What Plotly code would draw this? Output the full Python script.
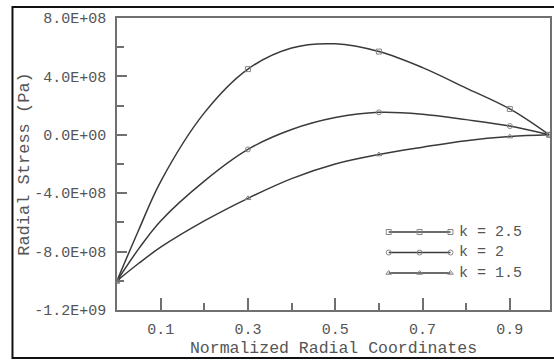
import plotly.graph_objects as go

# Normalized radial coordinate and radial stress (Pa) for three gradient indices
r_norm = [0.0, 0.05, 0.1, 0.2, 0.3, 0.4, 0.5, 0.6, 0.7, 0.8, 0.9, 0.99]
stress_k25 = [-1.0e9, -6.5e8, -3.2e8, 1.5e8, 4.5e8, 5.95e8, 6.23e8, 5.7e8, 4.6e8, 3.2e8, 1.77e8, 0.0]
stress_k2 = [-1.0e9, -7.8e8, -5.9e8, -3.17e8, -1.0e8, 0.36e8, 1.18e8, 1.54e8, 1.41e8, 1.04e8, 0.6e8, 0.0]
stress_k15 = [-1.0e9, -8.8e8, -7.7e8, -5.9e8, -4.35e8, -3.0e8, -2.0e8, -1.35e8, -0.85e8, -0.4e8, -0.12e8, 0.0]
series_names = ["k = 2.5", "k = 2", "k = 1.5"]
marker_index = [0, 4, 7, 10, 11]

x_tick_vals = [0.1, 0.3, 0.5, 0.7, 0.9]
x_tick_text = ["0.1", "0.3", "0.5", "0.7", "0.9"]
x_minor_vals = [0.2, 0.4, 0.6, 0.8]
y_tick_vals = [-1.2e9, -8.0e8, -4.0e8, 0.0, 4.0e8, 8.0e8]
y_tick_text = ["-1.2E+09", "-8.0E+08", "-4.0E+08", "0.0E+00", "4.0E+08", "8.0E+08"]
y_minor_vals = [-1.0e9, -6.0e8, -2.0e8, 2.0e8, 6.0e8]

W, H = 554, 360
L, R, T, B = 117, 2, 18, 50
PW, PH = W - L - R, H - T - B


def px(x):
    return (x - L) / PW


def py(y):
    return (H - B - y) / PH


FONT = "Liberation Mono"
LINE = "#3a3a3a"
MARK = "#858585"
AXIS = "#707070"
TEXT = "#555555"
symbols = ["square-open", "circle-open", "triangle-up-open"]
all_series = [stress_k25, stress_k2, stress_k15]

fig = go.Figure()
for name, ys, sym in zip(series_names, all_series, symbols):
    fig.add_trace(go.Scatter(
        x=r_norm, y=ys, mode="lines", name=name,
        line=dict(color=LINE, width=1.5, shape="spline", smoothing=1.0),
        showlegend=False, hoverinfo="skip",
    ))
    fig.add_trace(go.Scatter(
        x=[r_norm[i] for i in marker_index], y=[ys[i] for i in marker_index],
        mode="markers", name=name, showlegend=False,
        marker=dict(symbol=sym, size=5, color=MARK, line=dict(width=1, color=MARK)),
    ))

# Legend block: sample line with three markers and a label per series
leg_x = [px(390), px(421), px(452)]
leg_rows = [232, 252.5, 273]
for name, sym, yrow in zip(series_names, symbols, leg_rows):
    fig.add_trace(go.Scatter(
        x=leg_x, y=[py(yrow)] * 3, xaxis="x2", yaxis="y2",
        mode="lines+markers", showlegend=False, hoverinfo="skip",
        line=dict(color=LINE, width=1.5),
        marker=dict(symbol=sym, size=5, color=MARK, line=dict(width=1, color=MARK)),
    ))
    fig.add_annotation(
        x=px(459), y=py(yrow), xref="paper", yref="paper", text=name,
        showarrow=False, xanchor="left", yanchor="middle",
        font=dict(family=FONT, size=15, color=TEXT),
    )

# Outer frame around the whole figure
fig.add_shape(
    type="rect", xref="paper", yref="paper",
    x0=px(12), x1=px(560), y0=py(358), y1=py(7),
    line=dict(color="#111111", width=2), fillcolor="rgba(0,0,0,0)", layer="above",
)

axis_common = dict(
    showgrid=False, zeroline=False, showline=True, mirror=True,
    linecolor=AXIS, linewidth=1.5, ticks="inside", tickcolor=AXIS, tickwidth=1.5,
    tickfont=dict(family=FONT, size=15, color=TEXT),
)

fig.update_layout(
    width=W, height=H,
    margin=dict(l=L, r=R, t=T, b=B),
    paper_bgcolor="white", plot_bgcolor="white",
    xaxis=dict(
        range=[0, 0.992], tickmode="array", tickvals=x_tick_vals, ticktext=x_tick_text,
        ticklen=12, ticklabelstandoff=4,
        minor=dict(tickmode="array", tickvals=x_minor_vals, ticks="inside", ticklen=7,
                   tickcolor=AXIS, tickwidth=1.5),
        title=dict(text="Normalized Radial Coordinates", standoff=4,
                   font=dict(family=FONT, size=16.5, color=TEXT)),
        **axis_common,
    ),
    yaxis=dict(
        range=[-1.2e9, 8.0e8], tickmode="array", tickvals=y_tick_vals, ticktext=y_tick_text,
        ticklen=10, ticklabelstandoff=6,
        minor=dict(tickmode="array", tickvals=y_minor_vals, ticks="inside", ticklen=7,
                   tickcolor=AXIS, tickwidth=1.5),
        title=dict(text="Radial Stress (Pa)", standoff=0,
                   font=dict(family=FONT, size=17, color=TEXT)),
        **axis_common,
    ),
    xaxis2=dict(range=[0, 1], overlaying="x", visible=False, fixedrange=True),
    yaxis2=dict(range=[0, 1], overlaying="y", visible=False, fixedrange=True),
    showlegend=False,
)

fig.write_html("out.html")
